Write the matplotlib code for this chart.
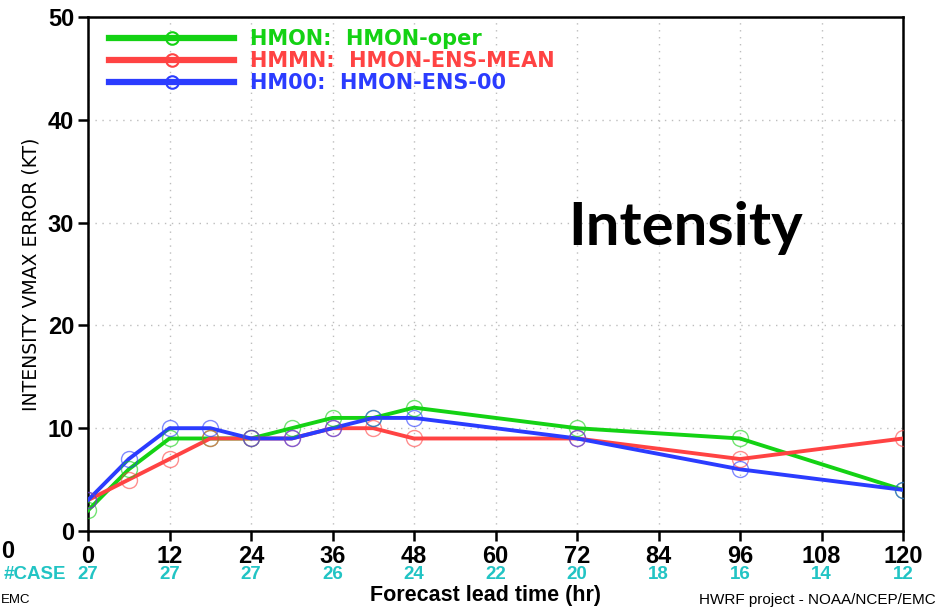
import numpy as np
import matplotlib
matplotlib.use("Agg")
import matplotlib.pyplot as plt
from matplotlib.lines import Line2D

# lead times (hr) with a verification point
hours = [0, 6, 12, 18, 24, 30, 36, 42, 48, 72, 96, 120]
hmon_oper = [2, 6, 9, 9, 9, 10, 11, 11, 12, 10, 9, 4]
hmon_ens_mean = [3, 5, 7, 9, 9, 9, 10, 10, 9, 9, 7, 9]
hmon_ens_00 = [3, 7, 10, 10, 9, 9, 10, 11, 11, 9, 6, 4]

series_labels = ["HMON:  HMON-oper", "HMMN:  HMON-ENS-MEAN", "HM00:  HMON-ENS-00"]
series_colors = ["#14d214", "#ff4343", "#2b3cff"]

xticks = list(range(0, 121, 12))
case_counts = [27, 27, 27, 26, 24, 22, 20, 18, 16, 14, 12]
yticks = [0, 10, 20, 30, 40, 50]

fig = plt.figure(figsize=(9.43, 6.13), dpi=100)
ax = fig.add_axes([88 / 943, 1 - 531 / 613, 815 / 943, 514 / 613])

for vals, col in zip([hmon_oper, hmon_ens_mean, hmon_ens_00], series_colors):
    ax.plot(hours, vals, color=col, lw=2.8, zorder=3)
    ax.plot(hours, vals, ls="none", marker="o", ms=11.5, mfc="none",
            mec=col, mew=1.0, alpha=0.6, zorder=4)

ax.set_xlim(0, 120)
ax.set_ylim(0, 50)
ax.set_xticks(xticks)
ax.set_yticks(yticks)
ax.grid(True, color="#bdbdbd", ls=(0, (1, 4)), lw=1.0)
ax.set_axisbelow(True)
for sp in ax.spines.values():
    sp.set_linewidth(1.8)
ax.tick_params(axis="both", direction="out", length=7, width=1.8,
               labelsize=17, pad=3)
for lab in ax.get_xticklabels() + ax.get_yticklabels():
    lab.set_family("Liberation Sans")
    lab.set_weight("bold")

# case counts row
for h, n in zip(xticks, case_counts):
    ax.text(h, -0.085, str(n), transform=ax.get_xaxis_transform(),
            ha="center", va="center", color="#22c4c4", fontsize=13.5,
            fontweight="bold", family="Liberation Sans", clip_on=False)
ax.text(-3.2, -0.085, "#CASE", transform=ax.get_xaxis_transform(),
        ha="right", va="center", color="#22c4c4", fontsize=13.5,
        fontweight="bold", family="Liberation Sans", clip_on=False)

ax.set_ylabel("INTENSITY VMAX ERROR (KT)", fontsize=13.5,
              family=["Liberation Sans Narrow", "DejaVu Sans"], labelpad=5)
fig.text(485 / 943, 1 - 595 / 613, "Forecast lead time (hr)", ha="center",
         va="center", fontsize=15.5, fontweight="bold", family="Liberation Sans")
fig.text(936 / 943, 1 - 600 / 613, "HWRF project - NOAA/NCEP/EMC", ha="right",
         va="center", fontsize=11, family="Liberation Sans")
fig.text(1 / 943, 1 - 600 / 613, "EMC", ha="left", va="center",
         fontsize=9.5, family="Liberation Sans")
fig.text(1 / 943, 1 - 551 / 613, "0", ha="left", va="center",
         fontsize=17, fontweight="bold", family="Liberation Sans")

ax.text(88, 29.5, "Intensity", ha="center", va="center", fontsize=43,
        fontweight="bold", family="Lato")

handles = [Line2D([0], [0], color=c, lw=4.5, marker="o", ms=9, mfc="none",
                  mec=c, mew=1.5) for c in series_colors]
leg = ax.legend(handles, series_labels, loc="upper left",
                bbox_to_anchor=(0.026, 0.977), frameon=False, numpoints=1,
                handlelength=6.0, handletextpad=0.75, labelspacing=0.1,
                borderaxespad=0, borderpad=0,
                prop={"family": "DejaVu Sans", "weight": "bold", "size": 15})
for txt, c in zip(leg.get_texts(), series_colors):
    txt.set_color(c)

fig.savefig("out.png", dpi=100)
